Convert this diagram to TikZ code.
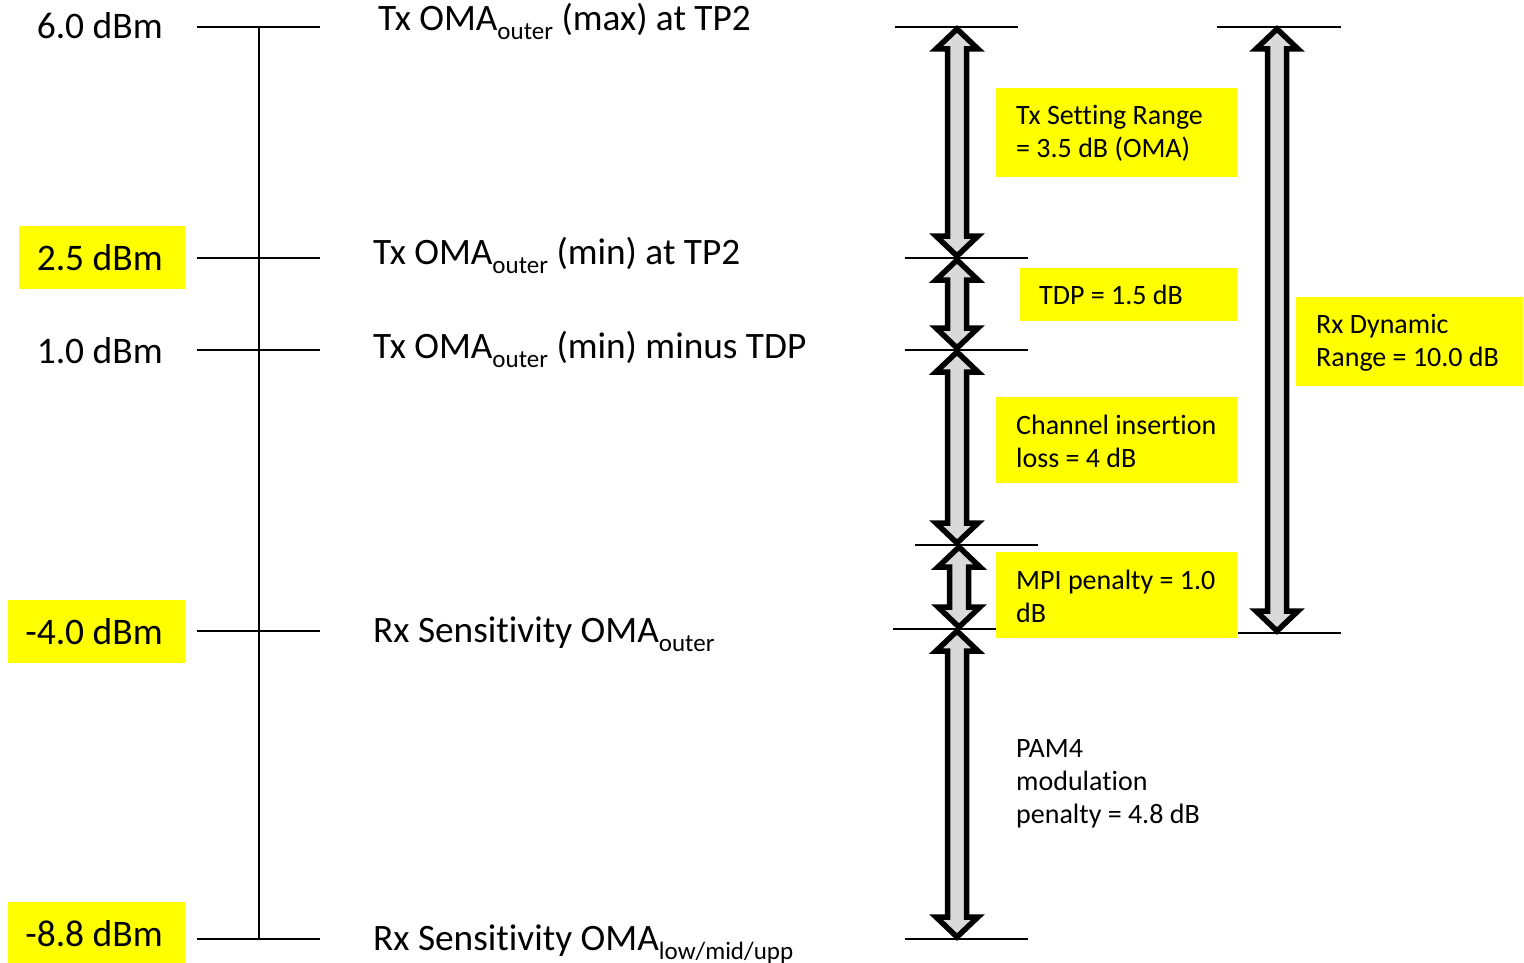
\documentclass[tikz,border=0pt]{standalone}
\usepackage{fontspec}
\setmainfont{Carlito}[Ligatures={NoCommon}]
\usetikzlibrary{calc}
\definecolor{hl}{HTML}{FFFF00}
\definecolor{arrfill}{HTML}{D9D9D9}
\newcommand\sub[1]{\raisebox{-9pt}{\fontsize{25}{25}\selectfont #1}}
\newcommand\blockarr[2]{%
  \draw[blockarrow] let \p1=(#1), \p2=(#2) in
  (\x1,\y1) -- (\x1+21pt,\y1-20pt) -- (\x1+9.5pt,\y1-20pt) -- (\x1+9.5pt,\y2+20pt)
  -- (\x1+21pt,\y2+20pt) -- (\x1,\y2) -- (\x1-21pt,\y2+20pt) -- (\x1-9.5pt,\y2+20pt)
  -- (\x1-9.5pt,\y1-20pt) -- (\x1-21pt,\y1-20pt) -- cycle;}
\tikzset{
  blockarrow/.style={draw=black, fill=arrfill, line width=5.5pt, line join=miter},
  level/.style={line width=1.4pt},
  biglabel/.style={anchor=base west, inner sep=0pt, font=\fontsize{37.3}{44}\selectfont},
  valuelabel/.style={anchor=base east, inner sep=0pt, font=\fontsize{37.5}{44}\selectfont},
  boxtext/.style={anchor=base west, inner sep=0pt, align=left, font=\fontsize{28}{33}\selectfont},
}
\begin{document}
\begin{tikzpicture}[x=1pt,y=-1pt]
\useasboundingbox (0,0) rectangle (1524,963);
% highlight boxes (left)
\fill[hl] (19,226) rectangle (185,289);
\fill[hl] (8,600) rectangle (185,663);
\fill[hl] (8,902) rectangle (185,963);
% left values
\node[valuelabel] (v1) at (163,39) {6.0 dBm};
\node[valuelabel] (v2) at (163,270) {2.5 dBm};
\node[valuelabel] (v3) at (163,363) {1.0 dBm};
\node[valuelabel] (v4) at (163,644) {-4.0 dBm};
\node[valuelabel] (v5) at (163,946) {-8.8 dBm};
% left scale
\coordinate (sL1) at (197,27); \coordinate (sR1) at (320,27);
\coordinate (sL2) at (197,258); \coordinate (sR2) at (320,258);
\coordinate (sL3) at (197,350); \coordinate (sR3) at (320,350);
\coordinate (sL4) at (197,631); \coordinate (sR4) at (320,631);
\coordinate (sL5) at (197,939); \coordinate (sR5) at (320,939);
\coordinate (vt) at (259,27); \coordinate (vb) at (259,939);
\foreach \i in {1,...,5} {\draw[level] (sL\i) -- (sR\i);}
\draw[level] (vt) -- (vb);
% middle labels
\node[biglabel] (l1) at (378,31) {Tx OMA\sub{outer} (max) at TP2};
\node[biglabel] (l2) at (373,264) {Tx OMA\sub{outer} (min) at TP2};
\node[biglabel] (l3) at (373,358) {Tx OMA\sub{outer} (min) minus TDP};
\node[biglabel] (l4) at (373,642) {Rx Sensitivity OMA\sub{outer}};
\node[biglabel] (l5) at (373,950) {Rx Sensitivity OMA\sub{low/mid/upp}};
% right level lines
\coordinate (a1) at (895,27);  \coordinate (b1) at (1018,27);
\coordinate (a2) at (905,258); \coordinate (b2) at (1028,258);
\coordinate (a3) at (905,350); \coordinate (b3) at (1028,350);
\coordinate (a4) at (915,545); \coordinate (b4) at (1038,545);
\coordinate (a5) at (893,629); \coordinate (b5) at (1018,629);
\coordinate (a6) at (905,939); \coordinate (b6) at (1028,939);
\coordinate (c1) at (1217,27); \coordinate (d1) at (1341,27);
\coordinate (c2) at (1238,633); \coordinate (d2) at (1341,633);
\foreach \i in {1,...,6} {\draw[level] (a\i) -- (b\i);}
\draw[level] (c1) -- (d1);
\draw[level] (c2) -- (d2);
% arrows
\coordinate (t1) at (957,29);  \coordinate (u1) at (957,256);
\coordinate (t2) at (957,260); \coordinate (u2) at (957,348);
\coordinate (t3) at (957,352); \coordinate (u3) at (957,543);
\coordinate (t4) at (959,547); \coordinate (u4) at (959,627);
\coordinate (t5) at (957,631); \coordinate (u5) at (957,937);
\coordinate (t6) at (1277,29); \coordinate (u6) at (1277,631);
\foreach \i in {1,...,6} {\blockarr{t\i}{u\i}}
% right boxes
\fill[hl] (996,88) rectangle (1237,177);
\fill[hl] (1020,268) rectangle (1237,321);
\fill[hl] (996,397) rectangle (1237,483);
\fill[hl] (996,552) rectangle (1237,638);
\fill[hl] (1296,297) rectangle (1523,386);
\node[boxtext] (n1) at (1016,158) {Tx Setting Range\\= 3.5 dB (OMA)};
\node[boxtext] (n2) at (1039,304) {TDP = 1.5 dB};
\node[boxtext] (n3) at (1016,467) {Channel insertion\\loss = 4 dB};
\node[boxtext] (n4) at (1016,622) {MPI penalty = 1.0\\dB};
\node[boxtext] (n5) at (1316,366) {Rx Dynamic\\Range = 10.0 dB};
\node[boxtext] (n6) at (1016,823) {PAM4\\modulation\\penalty = 4.8 dB};
\end{tikzpicture}
\end{document}
